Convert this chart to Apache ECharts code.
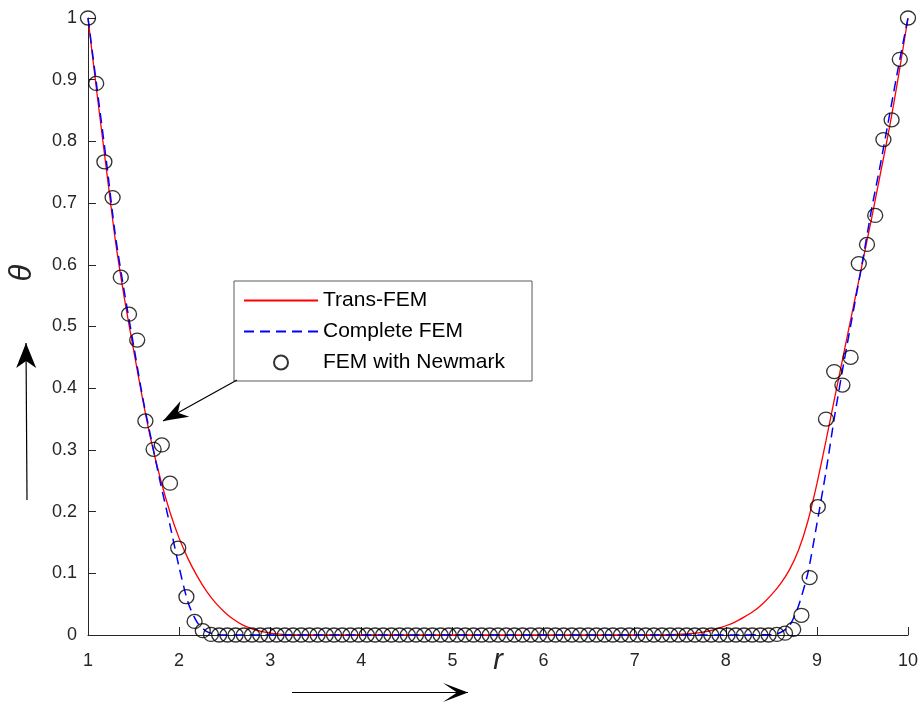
<!DOCTYPE html>
<html>
<head>
<meta charset="utf-8">
<script src="https://cdn.jsdelivr.net/npm/echarts@6/dist/echarts.min.js"></script>
<style>
html,body{margin:0;padding:0;background:#fff;}
#chart{width:921px;height:707px;}
</style>
</head>
<body>
<div id="chart"></div>
<script>
// ---- data ----
var xTicks = [1,2,3,4,5,6,7,8,9,10];
var yTicks = [0,0.1,0.2,0.3,0.4,0.5,0.6,0.7,0.8,0.9,1];

var transR =     [1.0,1.1,1.2,1.3,1.4,1.5,1.6,1.7,1.8,1.9,2.0,2.1,2.2,2.3,2.4,2.5,2.6,2.7,2.8,2.9,3.0,3.1,3.2,3.4,5.0,7.2,7.4,7.6,7.8,7.9,8.0,8.1,8.2,8.3,8.4,8.5,8.6,8.7,8.8,8.9,9.0,9.1,9.2,9.3,9.4,9.5,9.6,9.7,9.8,9.9,10.0];
var transTheta = [1.0,0.876,0.757,0.640,0.545,0.462,0.382,0.310,0.250,0.199,0.157,0.123,0.095,0.071,0.052,0.037,0.025,0.016,0.010,0.006,0.003,0.0015,0.0005,0,0,0,0.0005,0.002,0.006,0.010,0.015,0.021,0.029,0.038,0.050,0.065,0.083,0.106,0.138,0.184,0.245,0.315,0.388,0.460,0.532,0.603,0.675,0.750,0.825,0.910,1.0];

var completeR =     [1.0,1.1,1.2,1.3,1.4,1.5,1.6,1.7,1.8,1.9,2.0,2.1,2.2,2.3,2.4,2.5,5.0,8.0,8.5,8.6,8.7,8.8,8.9,9.0,9.1,9.2,9.3,9.4,9.5,9.6,9.7,9.8,9.9,10.0];
var completeTheta = [1.0,0.885,0.770,0.648,0.555,0.470,0.385,0.313,0.243,0.178,0.110,0.052,0.020,0.006,0.001,0,0,0,0.001,0.004,0.015,0.048,0.100,0.180,0.265,0.360,0.445,0.525,0.605,0.690,0.765,0.845,0.925,1.0];

// FEM with Newmark: 101 nodes, r from 1 to 10 in steps of 0.09
var newmarkStart = 1, newmarkStep = 0.09;
var newmarkTheta = [
 1.000,0.894,0.767,0.709,0.580,0.520,0.478,0.347,0.301,0.308,
 0.246,0.141,0.062,0.022,0.007,0.001,0,0,0,0,
 0,0,0,0,0,0,0,0,0,0,
 0,0,0,0,0,0,0,0,0,0,
 0,0,0,0,0,0,0,0,0,0,
 0,0,0,0,0,0,0,0,0,0,
 0,0,0,0,0,0,0,0,0,0,
 0,0,0,0,0,0,0,0,0,0,
 0,0,0,0,0.001,0.003,0.009,0.032,0.093,0.208,
 0.350,0.427,0.405,0.450,0.602,0.633,0.680,0.803,0.835,0.933,
 1.000];

var seriesNames = ['Trans-FEM','Complete FEM','FEM with Newmark'];

// ---- build ----
function pairs(xs, ys){ return xs.map(function(x,i){ return [x, ys[i]]; }); }
var newmarkData = newmarkTheta.map(function(v,i){
  return [+(newmarkStart + newmarkStep*i).toFixed(4), v];
});

var chart = echarts.init(document.getElementById('chart'));
var labelFont = 'Liberation Sans, Arial, sans-serif';
var axisColor = '#262626';

var option = {
  animation: false,
  backgroundColor: '#fff',
  grid: {left: 88, right: 13, top: 18, bottom: 72, containLabel: false, outerBoundsMode: 'none'},
  xAxis: {
    type: 'value', min: 1, max: 10, interval: 1,
    name: 'r', nameLocation: 'middle', nameGap: 11, nameMoveOverlap: false,
    nameTextStyle: {fontFamily: labelFont, fontStyle: 'italic', fontSize: 29, color: axisColor},
    axisLine: {show: true, onZero: false, lineStyle: {color: axisColor, width: 1}},
    axisTick: {show: true, inside: true, length: 8, lineStyle: {color: axisColor}},
    axisLabel: {fontFamily: labelFont, fontSize: 18, color: axisColor, margin: 17,
      formatter: function(v){ return xTicks.indexOf(v) >= 0 ? String(v) : ''; }},
    splitLine: {show: false}
  },
  yAxis: {
    type: 'value', min: 0, max: 1, interval: 0.1,
    axisLine: {show: true, lineStyle: {color: axisColor, width: 1}},
    axisTick: {show: true, inside: true, length: 8, lineStyle: {color: axisColor}},
    axisLabel: {fontFamily: labelFont, fontSize: 18, color: axisColor, margin: 11,
      formatter: function(v){
        var r = Math.round(v*10)/10;
        return yTicks.indexOf(r) >= 0 ? String(r) : '';
      }},
    splitLine: {show: false}
  },
  legend: {
    orient: 'vertical', left: 234, top: 281,
    backgroundColor: '#fff',
    borderColor: '#5a5a5a', borderWidth: 1,
    padding: [9, 27, 8, 9],
    itemWidth: 74, itemHeight: 14, itemGap: 10,
    textStyle: {fontFamily: labelFont, fontSize: 21, color: '#000', lineHeight: 21},
    data: [
      {name: seriesNames[0], itemStyle: {opacity: 0}},
      {name: seriesNames[1], itemStyle: {opacity: 0}},
      {name: seriesNames[2]}
    ]
  },
  series: [
    {
      name: seriesNames[0], type: 'line', data: pairs(transR, transTheta),
      showSymbol: false, symbol: 'none', smooth: 0.25,
      lineStyle: {color: '#ff0000', width: 1.3}, itemStyle: {color: '#ff0000'},
      clip: false, z: 2
    },
    {
      name: seriesNames[1], type: 'line', data: pairs(completeR, completeTheta),
      showSymbol: false, symbol: 'none', smooth: 0.25,
      lineStyle: {color: '#0000ff', width: 1.5, type: [10, 6]}, itemStyle: {color: '#0000ff'},
      clip: false, z: 3
    },
    {
      name: seriesNames[2], type: 'scatter', data: newmarkData,
      symbol: 'circle', symbolSize: [15, 14],
      itemStyle: {color: 'rgba(0,0,0,0)', borderColor: '#000', borderWidth: 1.3},
      clip: false, z: 4
    }
  ]
};
chart.setOption(option);

// ---- annotation arrows and the theta label ----
function arrowHead(tip, dirx, diry, len, half, notch){
  var n = Math.sqrt(dirx*dirx + diry*diry); dirx/=n; diry/=n;
  var px = -diry, py = dirx;
  var bx = tip[0] - dirx*len, by = tip[1] - diry*len;
  var nx = tip[0] - dirx*(len-notch), ny = tip[1] - diry*(len-notch);
  return [tip, [bx + px*half, by + py*half], [nx, ny], [bx - px*half, by - py*half]];
}
function arrow(from, to, len, half, notch){
  var dx = to[0]-from[0], dy = to[1]-from[1];
  return [
    {type: 'line', shape: {x1: from[0], y1: from[1], x2: to[0], y2: to[1]},
     style: {stroke: '#000', lineWidth: 1.2}, z: 10},
    {type: 'polygon', shape: {points: arrowHead(to, dx, dy, len, half, notch)},
     style: {fill: '#000'}, z: 10}
  ];
}
var g = [];
g = g.concat(arrow([27, 500], [26, 343], 25, 10, 7));
g = g.concat(arrow([292, 692.5], [468, 692.5], 25, 9.5, 14));
g = g.concat(arrow([237, 380], [163, 421], 25, 9, 8));
g.push({
  type: 'text', x: 22, y: 273, rotation: Math.PI/2,
  style: {text: 'θ', font: 'italic 31px Liberation Sans, Arial, sans-serif', fill: axisColor,
          textAlign: 'center', textVerticalAlign: 'middle'}, z: 10
});
chart.setOption({graphic: g});
</script>
</body>
</html>
